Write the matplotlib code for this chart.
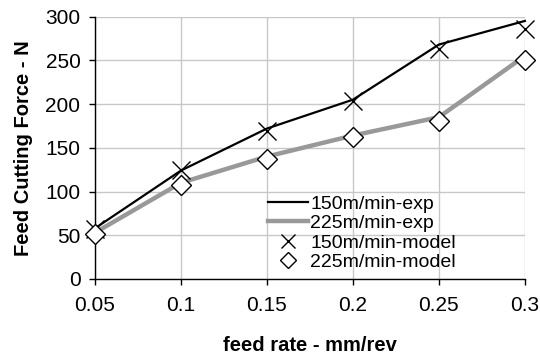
import numpy as np
import matplotlib.pyplot as plt

plt.rcParams['font.family'] = ['Liberation Sans', 'DejaVu Sans']

# feed rates (categories) and measured / modelled feed force
feed_rates = ['0.05', '0.1', '0.15', '0.2', '0.25', '0.3']
exp_150 = [58, 124, 172, 205, 268, 295]
exp_225 = [53, 110, 140, 164, 185, 255]
model_150 = [57, 125, 169, 203, 263, 286]
model_225 = [52, 107, 137, 162, 181, 250]

x = np.arange(len(feed_rates))

fig, ax = plt.subplots(figsize=(5.4, 3.6), dpi=100)
fig.subplots_adjust(left=0.176, right=0.972, top=0.954, bottom=0.225)

ax.plot(x, exp_150, color='black', lw=1.6, label='150m/min-exp', zorder=3,
        clip_on=False)
ax.plot(x, exp_225, color='#999999', lw=3.2, label='225m/min-exp', zorder=2,
        clip_on=False)
ax.plot(x, model_150, ls='none', marker='x', ms=13, mew=1.0, color='black',
        label='150m/min-model', zorder=4, clip_on=False)
ax.plot(x, model_225, ls='none', marker='D', ms=10, mew=1.0, mfc='white',
        mec='black', label='225m/min-model', zorder=4, clip_on=False)

ax.set_xlim(0, len(feed_rates) - 1)
ax.set_ylim(0, 300)
ax.set_xticks(x)
ax.set_xticklabels(feed_rates)
ax.set_yticks(range(0, 301, 50))
ax.tick_params(labelsize=15, direction='out', length=4.5, width=1, pad=6)
ax.tick_params(axis='x', pad=8)
ax.grid(True, color='#c8c8c8', lw=1)
ax.set_axisbelow(True)
for s in ['top', 'right']:
    ax.spines[s].set_visible(False)
for s in ['left', 'bottom']:
    ax.spines[s].set_linewidth(1)

ax.set_xlabel('feed rate - mm/rev', fontsize=14.5, fontweight='bold', labelpad=15)
ax.set_ylabel('Feed Cutting Force - N', fontsize=14.5, fontweight='bold', labelpad=9)

ax.legend(loc='center left', bbox_to_anchor=(0.379, 0.175), frameon=False,
          fontsize=14, handlelength=2.05, handletextpad=0.15, labelspacing=0.1,
          borderpad=0, markerscale=0.8)

fig.savefig('out.png', dpi=100)
